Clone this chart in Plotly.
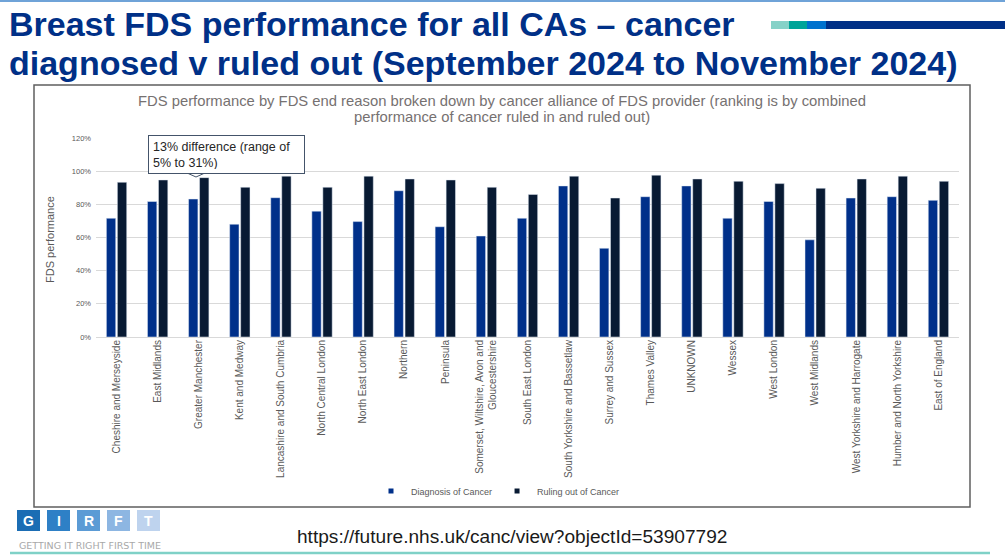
"""
Breast FDS performance by cancer alliance - recreated with Plotly
"""
import plotly.graph_objects as go

alliances = [
    'Cheshire and Merseyside', 'East Midlands', 'Greater Manchester',
    'Kent and Medway', 'Lancashire and South Cumbria', 'North Central London',
    'North East London', 'Northern', 'Peninsula',
    'Somerset, Wiltshire, Avon and<br>Gloucestershire', 'South East London',
    'South Yorkshire and Bassetlaw', 'Surrey and Sussex', 'Thames Valley',
    'UNKNOWN', 'Wessex', 'West London', 'West Midlands',
    'West Yorkshire and Harrogate', 'Humber and North Yorkshire', 'East of England',
]
diagnosis = [0.716, 0.817, 0.832, 0.680, 0.840, 0.759, 0.696, 0.882, 0.665,
             0.609, 0.716, 0.911, 0.535, 0.846, 0.911, 0.716, 0.817, 0.586,
             0.838, 0.846, 0.824]
ruling_out = [0.933, 0.947, 0.961, 0.903, 0.970, 0.903, 0.970, 0.953, 0.947,
              0.903, 0.860, 0.970, 0.838, 0.976, 0.953, 0.939, 0.925, 0.897,
              0.953, 0.970, 0.939]
y_ticks = [0, 0.2, 0.4, 0.6, 0.8, 1.0, 1.2]
y_tick_text = ['0%', '20%', '40%', '60%', '80%', '100%', '120%']

W, H = 1005, 555
ML, MR, MT, MB = 96, 46, 138, 218
PW, PH = W - ML - MR, H - MT - MB


# pixel -> paper helpers for the slide furniture around the chart
def px(x):
    return (x - ML) / PW


def py(y):
    return (H - MB - y) / PH


GRAY = '#767171'
NAVY = '#003087'
BLUE_BAR = '#00308a'
DARK_BAR = '#081a33'
FONT = 'Liberation Sans, Arial'

fig = go.Figure()
fig.add_trace(go.Bar(name='Diagnosis of Cancer', x=alliances, y=diagnosis,
                     marker_color=BLUE_BAR, showlegend=False))
fig.add_trace(go.Bar(name='Ruling out of Cancer', x=alliances, y=ruling_out,
                     marker_color=DARK_BAR, showlegend=False))
# small square legend keys, like the original
for name, c in [('Diagnosis of Cancer', BLUE_BAR), ('Ruling out of Cancer', DARK_BAR)]:
    fig.add_trace(go.Scatter(name=name, x=[None], y=[None], mode='markers',
                             marker=dict(symbol='square', size=5, color=c)))

shapes = [
    # thin blue rule across the top of the slide
    dict(type='line', xref='paper', yref='paper', x0=px(0), x1=px(W), y0=py(1), y1=py(1),
         line=dict(color='#6fa3d8', width=2)),
    # chart frame
    dict(type='rect', xref='paper', yref='paper', x0=px(34), x1=px(970), y0=py(85), y1=py(507),
         line=dict(color='#5f5f5f', width=1.5)),
    # bottom teal rule
    dict(type='line', xref='paper', yref='paper', x0=px(10), x1=px(990), y0=py(553), y1=py(553),
         line=dict(color='#7fd1c7', width=2.5)),
]

# decorative colour strip top right
strip = [(771, 789, '#86d2c8'), (789, 807, '#00a499'), (807, 826, '#0072ce'), (826, 1005, '#003087')]
for x0, x1, c in strip:
    shapes.append(dict(type='rect', xref='paper', yref='paper', x0=px(x0), x1=px(x1),
                       y0=py(29), y1=py(21), line=dict(width=0), fillcolor=c))

# GIRFT logo squares
logo_letters = ['G', 'I', 'R', 'F', 'T']
logo_colors = ['#1b6db4', '#2e80c6', '#5b9bd5', '#8db6e2', '#bed3ee']
annotations = []
for i, (letter, c) in enumerate(zip(logo_letters, logo_colors)):
    x0 = 17 + 30 * i
    shapes.append(dict(type='rect', xref='paper', yref='paper', x0=px(x0), x1=px(x0 + 23),
                       y0=py(531), y1=py(510), line=dict(width=0), fillcolor=c))
    annotations.append(dict(text=f'<b>{letter}</b>', x=px(x0 + 11.5), y=py(520.5),
                            xanchor='center', yanchor='middle',
                            xref='paper', yref='paper', showarrow=False,
                            font=dict(size=14, color='white', family=FONT)))

annotations += [
    dict(text='<b>Breast FDS performance for all CAs – cancer</b>', x=px(7), y=py(24),
         xanchor='left', yanchor='middle', xref='paper', yref='paper', showarrow=False,
         font=dict(size=34, color=NAVY, family=FONT)),
    dict(text='<b>diagnosed v ruled out (September 2024 to November 2024)</b>', x=px(7), y=py(63),
         xanchor='left', yanchor='middle', xref='paper', yref='paper', showarrow=False,
         font=dict(size=34, color=NAVY, family=FONT)),
    dict(text='FDS performance by FDS end reason broken down by cancer alliance of FDS provider (ranking is by combined',
         x=px(502), y=py(101), xanchor='center', yanchor='middle', xref='paper', yref='paper',
         showarrow=False, font=dict(size=14.8, color=GRAY, family=FONT)),
    dict(text='performance of cancer ruled in and ruled out)',
         x=px(502), y=py(117), xanchor='center', yanchor='middle', xref='paper', yref='paper',
         showarrow=False, font=dict(size=14.8, color=GRAY, family=FONT)),
    dict(text='13% difference (range of<br>5% to 31%)', x=px(148), y=py(135),
         xanchor='left', yanchor='top', xref='paper', yref='paper', showarrow=False, align='left',
         width=147, height=29, valign='top', bgcolor='white', bordercolor='#44546a', borderwidth=1,
         borderpad=4, font=dict(size=12.5, color='#262626', family=FONT)),
    dict(text='FDS performance', x=px(50), y=py(240), textangle=-90, xanchor='center',
         yanchor='middle', xref='paper', yref='paper',
         showarrow=False, font=dict(size=11, color='#595959', family=FONT)),
    dict(text='GETTING IT RIGHT FIRST TIME', x=px(17), y=py(545), xanchor='left', yanchor='middle',
         xref='paper', yref='paper', showarrow=False,
         font=dict(size=9.5, color='#a8a8a8', family='DejaVu Sans')),
    dict(text='https://future.nhs.uk/canc/view?objectId=53907792', x=px(295), y=py(536),
         xanchor='left', yanchor='middle', xref='paper', yref='paper', showarrow=False,
         font=dict(size=19.1, color='#1a1a1a', family=FONT)),
]

# callout pointer under the annotation box
shapes.append(dict(type='path', xref='paper', yref='paper', layer='above',
                   path=f'M {px(186)} {py(172.5)} L {px(196)} {py(177)} L {px(206)} {py(172.5)}',
                   fillcolor='white', line=dict(color='#44546a', width=1)))

fig.update_layout(
    width=W, height=H,
    margin=dict(l=ML, r=MR, t=MT, b=MB),
    paper_bgcolor='white', plot_bgcolor='white',
    barmode='group', bargap=0.465, bargroupgap=0.15,
    font=dict(family=FONT, color='#595959'),
    showlegend=True,
    legend=dict(orientation='h', x=px(498), xanchor='center', y=py(491), yanchor='middle',
                font=dict(size=9, color='#595959'), itemwidth=30, bgcolor='rgba(0,0,0,0)'),
    shapes=shapes,
    annotations=annotations,
)
fig.update_xaxes(tickangle=-90, tickfont=dict(size=10, color='#595959'), showline=False,
                 ticks='', showgrid=False)
fig.update_yaxes(range=[0, 1.2], tickvals=y_ticks, ticktext=y_tick_text,
                 tickfont=dict(size=7.5, color='#595959'), gridcolor='#d9d9d9', gridwidth=1,
                 zeroline=True, zerolinecolor='#d9d9d9', zerolinewidth=1, showline=False, ticks='',
                 ticklabelstandoff=4)

# drop the default page margin so the figure sits at the window's top-left corner
fig.write_html("out.html", config={'displayModeBar': False},
               post_script="document.body.style.margin='0';")
